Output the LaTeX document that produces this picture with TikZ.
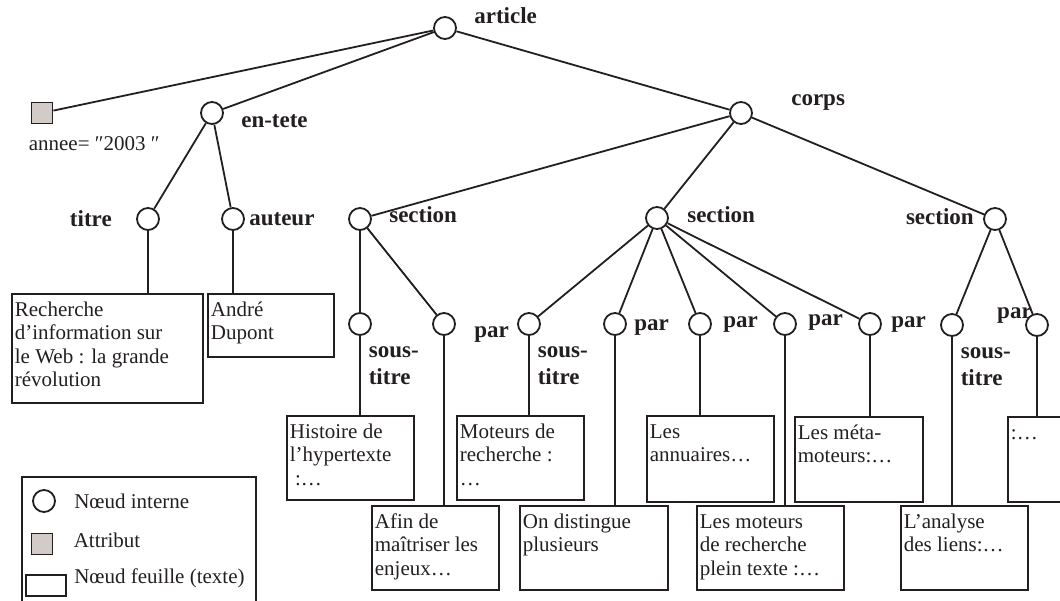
\documentclass[tikz,border=0pt]{standalone}
\usepackage{fontspec}
\setmainfont{Liberation Serif}
\usetikzlibrary{positioning}
\definecolor{ink}{HTML}{231F20}
\definecolor{attrgray}{HTML}{D3CBC8}
\newcommand{\leaffont}{\fontsize{10.5}{11.7}\selectfont}
\newcommand{\tagfont}{\fontsize{11.5}{13.5}\selectfont\bfseries}
\newcommand{\leaftext}[3]{\parbox[t][#2][t]{#1}{\raggedright\strut #3}}
\tikzset{
  % tree edge style
  tedge/.style={
    draw=ink
    , line width=0.9pt
  },
}
\tikzset{
  % internal node (circle)
  inode/.style={
    draw=ink
    , circle
    , line width=0.9pt
    , minimum size=11pt
    , inner sep=0pt
  },
  % attribute node (grey square)
  anode/.style={
    draw=ink
    , fill=attrgray
    , line width=0.9pt
    , minimum size=10.5pt
    , inner sep=0pt
  },
  % text leaf box
  leaf/.style={
    draw=ink
    , line width=0.9pt
    , anchor=north west
    , inner xsep=1.5pt
    , inner ysep=3pt
    , font=\leaffont
    , text=ink
  },
  % element name
  tag/.style={
    inner sep=0pt
    , font=\tagfont
    , text=ink
  },
  % plain text
  plain/.style={
    inner sep=0pt
    , font=\leaffont
    , text=ink
  },
}
\begin{document}
\begin{tikzpicture}[x=0.5pt, y=-0.5pt]
      \useasboundingbox (0,0) rectangle (1060,600);
      \clip (0,0) rectangle (1060,600);

      % internal nodes
      \node[inode] (article) at (445,28) {};
      \node[anode] (annee) at (42,113) {};
      \node[inode] (entete) at (212,113) {};
      \node[inode] (corps) at (741,113) {};
      \node[inode] (titre) at (148,219) {};
      \node[inode] (auteur) at (233,219) {};
      \node[inode] (secA) at (360,219) {};
      \node[inode] (secB) at (657,218) {};
      \node[inode] (secC) at (995,219) {};
      \node[inode] (stA) at (360,324) {};
      \node[inode] (parA) at (444,324) {};
      \node[inode] (stB) at (529,324) {};
      \node[inode] (parB1) at (615,324) {};
      \node[inode] (parB2) at (700,324) {};
      \node[inode] (parB3) at (785,324) {};
      \node[inode] (parB4) at (870,324) {};
      \node[inode] (stC) at (952,325) {};
      \node[inode] (parC) at (1037,325) {};

      % labels
      \node[tag, right=8.5pt of article, yshift=6pt] (articlelbl) {article};
      \node[plain, below right=6pt and -12.5pt of annee] (anneelbl) {annee= ″2003 ″};
      \node[tag, right=8.5pt of entete, yshift=-4pt] (entetelbl) {en-tete};
      \node[tag, right=19pt of corps, yshift=5.5pt] (corpslbl) {corps};
      \node[tag, left=12pt of titre] (titrelbl) {titre};
      \node[tag, right=2pt of auteur] (auteurlbl) {auteur};
      \node[tag, right=8.5pt of secA, yshift=2pt] (secAlbl) {section};
      \node[tag, right=9pt of secB, yshift=1.5pt] (secBlbl) {section};
      \node[tag, left=4.5pt of secC, yshift=1pt] (secClbl) {section};
      \node[tag, align=left, below right=7pt and 0pt of stA] (stAlbl) {sous-\\titre};
      \node[tag, right=9pt of parA, yshift=-5pt] (parAlbl) {par};
      \node[tag, align=left, below right=7pt and 0pt of stB] (stBlbl) {sous-\\titre};
      \node[tag, right=3.5pt of parB1, yshift=-1.5pt] (parB1lbl) {par};
      \node[tag, right=5.5pt of parB2] (parB2lbl) {par};
      \node[tag, right=5.5pt of parB3, yshift=1pt] (parB3lbl) {par};
      \node[tag, right=4.5pt of parB4] (parB4lbl) {par};
      \node[tag, align=left, below right=7pt and 0pt of stC] (stClbl) {sous-\\titre};
      \node[tag, left=-3.5pt of parC, yshift=5pt] (parClbl) {par};

      % text leaves
      \node[leaf] (titretxt) at (11,293) {\leaftext{92.5pt}{48.5pt}{Recherche\\ d’information sur\\ le Web : la grande\\ révolution}};
      \node[leaf] (auteurtxt) at (207,293) {\leaftext{60pt}{25.5pt}{André\\ Dupont}};
      \node[leaf] (histtxt) at (286,415) {\leaftext{60.5pt}{36pt}{Histoire de\\ l’hypertexte\\ \ :…}};
      \node[leaf] (afintxt) at (371,505) {\leaftext{60.5pt}{36pt}{Afin de\\ maîtriser les\\ enjeux…}};
      \node[leaf] (moteurstxt) at (456,415) {\leaftext{60.5pt}{36pt}{Moteurs de\\ recherche :\\ …}};
      \node[leaf] (distxt) at (519,505) {\leaftext{71pt}{36pt}{On distingue\\ plusieurs}};
      \node[leaf] (annutxt) at (646,415) {\leaftext{60.5pt}{37pt}{Les\\ annuaires…}};
      \node[leaf] (plentxt) at (696,505) {\leaftext{70.5pt}{36pt}{Les moteurs\\ de recherche\\ plein texte :…}};
      \node[leaf] (metatxt) at (794,416) {\leaftext{61pt}{36.5pt}{Les méta-\\ moteurs:…}};
      \node[leaf] (anatxt) at (900,505) {\leaftext{60.5pt}{36pt}{L’analyse\\ des liens:…}};
      \node[leaf] (dotstxt) at (1007,416) {\leaftext{60.5pt}{36.5pt}{:…}};

      % tree edges
      \draw[tedge] (article) -- (annee);
      \draw[tedge] (article) -- (entete);
      \draw[tedge] (article) -- (corps);
      \draw[tedge] (entete) -- (titre);
      \draw[tedge] (entete) -- (auteur);
      \draw[tedge] (corps) -- (secA);
      \draw[tedge] (corps) -- (secB);
      \draw[tedge] (corps) -- (secC);
      \draw[tedge] (secA) -- (stA);
      \draw[tedge] (secA) -- (parA);
      \draw[tedge] (secB) -- (stB);
      \draw[tedge] (secB) -- (parB1);
      \draw[tedge] (secB) -- (parB2);
      \draw[tedge] (secB) -- (parB3);
      \draw[tedge] (secB) -- (parB4);
      \draw[tedge] (secC) -- (stC);
      \draw[tedge] (secC) -- (parC);

      % leaf edges
      \draw[tedge] (titre) -- (titre |- titretxt.north);
      \draw[tedge] (auteur) -- (auteur |- auteurtxt.north);
      \draw[tedge] (stA) -- (stA |- histtxt.north);
      \draw[tedge] (parA) -- (parA |- afintxt.north);
      \draw[tedge] (stB) -- (stB |- moteurstxt.north);
      \draw[tedge] (parB1) -- (parB1 |- distxt.north);
      \draw[tedge] (parB2) -- (parB2 |- annutxt.north);
      \draw[tedge] (parB3) -- (parB3 |- plentxt.north);
      \draw[tedge] (parB4) -- (parB4 |- metatxt.north);
      \draw[tedge] (stC) -- (stC |- anatxt.north);
      \draw[tedge] (parC) -- (parC |- dotstxt.north);

      % legend
      \draw[tedge] (22,477) rectangle (256,612);
      \node[inode] (legint) at (44,501) {};
      \node[plain, right=9pt of legint] (leginttxt) {Nœud interne};
      \node[anode] (legattr) at (42,544) {};
      \node[plain, right=10pt of legattr, yshift=2pt] (legattrtxt) {Attribut};
      \node[draw=ink, line width=0.9pt, minimum width=20pt, minimum height=10.5pt, inner sep=0pt] (legleaf) at (46,585.5) {};
      \node[plain, right=3.5pt of legleaf, yshift=3.5pt] (legleaftxt) {Nœud feuille (texte)};
    \end{tikzpicture}
\end{document}
